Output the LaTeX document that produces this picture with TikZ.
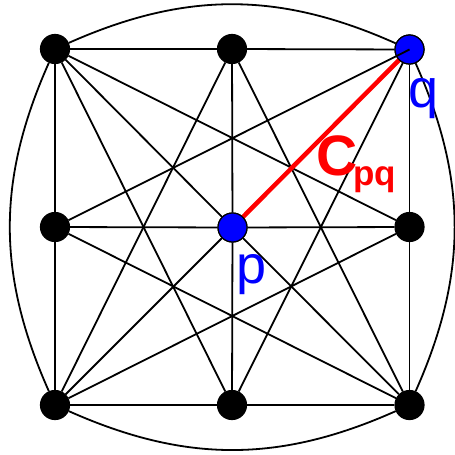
\documentclass[tikz,border=0pt]{standalone}
\usepackage{fontspec}
\setmainfont{Liberation Sans}
\begin{document}
\begin{tikzpicture}[x=1pt,y=-1pt,
  vtx/.style={circle,fill=black,draw=black,line width=1.2pt,minimum size=29pt,inner sep=0pt},
  bvtx/.style={vtx,fill=blue},
  edge/.style={line width=1.8pt,black},
  redge/.style={line width=4.5pt,red},
  lbl/.style={inner sep=0pt,anchor=base west,text=blue,font=\fontsize{54}{60}\selectfont}]
\useasboundingbox (0,0) rectangle (455,455);
\node[vtx]  (a) at (55,49) {};
\node[vtx]  (b) at (232,49) {};
\node[bvtx] (c) at (409.5,49.5) {};
\node[vtx]  (d) at (55,227) {};
\node[bvtx] (e) at (232.5,227.5) {};
\node[vtx]  (f) at (409.5,227) {};
\node[vtx]  (g) at (55,405) {};
\node[vtx]  (h) at (232,405) {};
\node[vtx]  (i) at (409.5,405) {};
% orthogonal
\draw[edge] (a) -- (b); \draw[edge] (b) -- (c);
\draw[edge] (d) -- (e); \draw[edge] (e) -- (f);
\draw[edge] (g) -- (h); \draw[edge] (h) -- (i);
\draw[edge] (a) -- (d); \draw[edge] (d) -- (g);
\draw[edge] (b) -- (e); \draw[edge] (e) -- (h);
\draw[edge] (c) -- (f); \draw[edge] (f) -- (i);
% diagonals
\draw[edge] (a) -- (e); \draw[edge] (e) -- (i); \draw[edge] (g) -- (e);
% knight moves
\draw[edge] (a) -- (f); \draw[edge] (a) -- (h);
\draw[edge] (c) -- (h);
\draw[edge] (g) -- (b); \draw[edge] (g) -- (f);
\draw[edge] (i) -- (b); \draw[edge] (i) -- (d);
% outer curves
\draw[edge] (a) to[bend left=24] (c);
\draw[edge] (c) to[bend left=24] (i);
\draw[edge] (i) to[bend left=24] (g);
\draw[edge] (g) to[bend left=24] (a);
% highlighted edge
\draw[redge] (e.center) -- (c.center);
\node[bvtx] at (c) {};
\node[bvtx] at (e) {};
\draw[edge] (c.center) -- (d);
% labels
\node[lbl] (ql) at (408,107) {q};
\node[lbl] (pl) at (236,283) {p};
\node[inner sep=0pt,anchor=base west,text=red,font=\fontsize{57}{60}\selectfont\bfseries] (cl) at (316,175) {C};
\node[inner sep=0pt,anchor=base west,text=red,font=\fontsize{35}{40}\selectfont\bfseries] (sl) at (353,185) {pq};
\end{tikzpicture}
\end{document}
